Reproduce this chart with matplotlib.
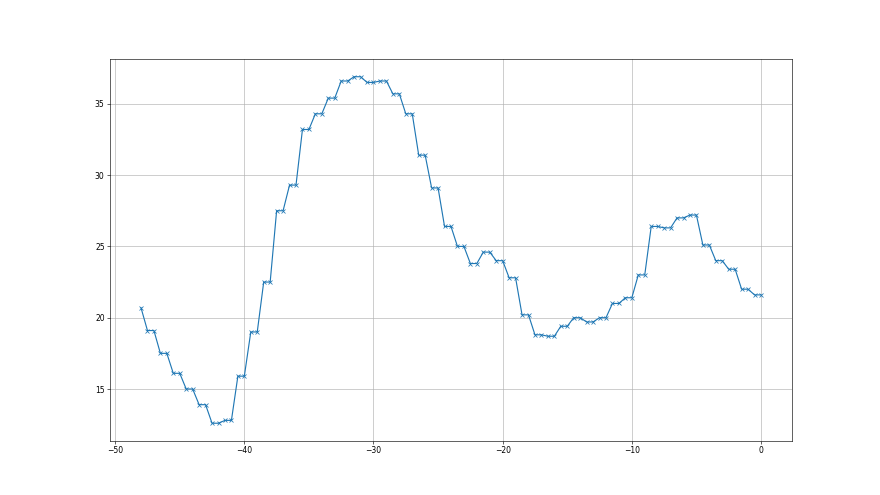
import numpy as np
import matplotlib
matplotlib.use("Agg")
import matplotlib.pyplot as plt

# one value per half-hour step, from -48 to 0
hours = np.arange(-48, 0.5, 0.5)
first_value = [20.7]
pair_values = [
    19.1, 17.5, 16.1, 15.0, 13.9, 12.6, 12.8, 15.9, 19.0, 22.5,
    27.5, 29.3, 33.2, 34.3, 35.4, 36.6, 36.9, 36.5, 36.6, 35.7,
    34.3, 31.4, 29.1, 26.4, 25.0, 23.8, 24.6, 24.0, 22.8, 20.2,
    18.8, 18.7, 19.4, 20.0, 19.7, 20.0, 21.0, 21.4, 23.0, 26.4,
    26.3, 27.0, 27.2, 25.1, 24.0, 23.4, 22.0, 21.6,
]
values = first_value + [v for v in pair_values for _ in range(2)]

fig = plt.figure(figsize=(16, 9), dpi=55)
plt.plot(hours, values, marker='x')
plt.grid(True)
plt.savefig('out.png', dpi=55)
